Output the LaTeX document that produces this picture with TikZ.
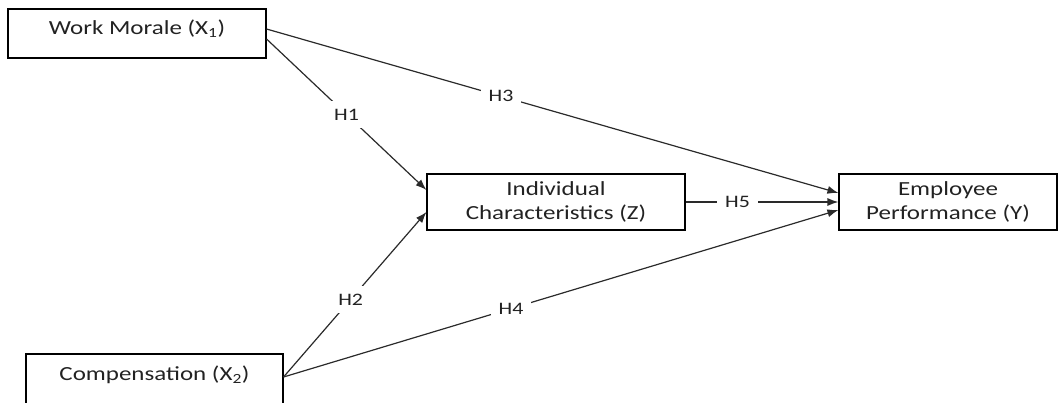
\documentclass[tikz,border=0pt]{standalone}
\usepackage{fontspec}
\setmainfont{Carlito}[FakeStretch=1.25]
\usetikzlibrary{arrows.meta}
\definecolor{linegray}{HTML}{2A2A2A}
\definecolor{textgray}{HTML}{222222}
\begin{document}
\begin{tikzpicture}[x=1pt,y=-1pt,
  box/.style={draw=black, line width=1.1pt, rectangle, inner sep=0pt, align=center,
    text=textgray, font=\fontsize{20}{24}\selectfont},
  onebox/.style={box, text depth=12pt},
  conn/.style={draw=linegray, line width=1.2pt, -{Latex[length=11pt,width=8pt]}},
  hyp/.style={fill=white, inner sep=8pt, text=textgray, font=\fontsize{17.5}{20}\selectfont}]
\useasboundingbox (0,0) rectangle (1058,403);
\clip (0,0) rectangle (1058,403);
\node[onebox, minimum width=258pt, minimum height=49pt] (wm) at (137,33.5) {Work Morale (X\textsubscript{1})};
\node[onebox, minimum width=257pt, minimum height=50pt] (cp) at (154.5,379) {Compensation (X\textsubscript{2})};
\node[box, minimum width=258pt, minimum height=56pt] (ic) at (556,202) {Individual\\Characteristics (Z)};
\node[box, minimum width=218pt, minimum height=56pt] (ep) at (948,202) {Employee\\Performance (Y)};
\coordinate (wmA) at ([yshift=4.5pt]wm.east);
\coordinate (wmB) at ([yshift=-5.5pt]wm.east);
\coordinate (cpA) at ([yshift=2pt]cp.east);
\draw[conn] (wmA) -- node[hyp, pos=0.41] (h3) {H3} ([yshift=9pt]ep.west);
\draw[conn] (wmB) -- node[hyp, pos=0.5] (h1) {H1} ([yshift=12pt]ic.west);
\draw[conn] (cpA) -- node[hyp, pos=0.47] (h2) {H2} ([yshift=-10pt]ic.west);
\draw[conn] (cpA) -- node[hyp, pos=0.41] (h4) {H4} ([yshift=-8pt]ep.west);
\draw[conn] (ic.east) -- node[hyp, pos=0.34] (h5) {H5} (ep.west);
\end{tikzpicture}
\end{document}
